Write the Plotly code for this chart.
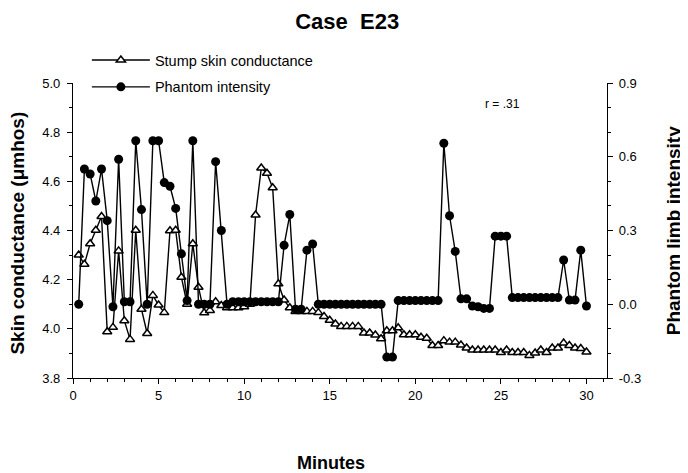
import plotly.graph_objects as go

# ---- data (sampled every 20 s) ----
sample_interval_min = 1 / 3

stump_skin_conductance = [
    4.300, 4.263, 4.346, 4.401, 4.457, 3.988, 4.006, 4.317, 4.033, 3.957,
    4.401, 4.080, 3.981, 4.136, 4.097, 4.066, 4.399, 4.401, 4.210, 4.100,
    4.346, 4.169, 4.065, 4.075, 4.110, 4.095, 4.086, 4.086, 4.086, 4.090,
    4.100, 4.463, 4.654, 4.633, 4.574, 4.183, 4.117, 4.086, 4.071, 4.071,
    4.071, 4.071, 4.066, 4.050, 4.035, 4.020, 4.010, 4.010, 4.010, 4.010,
    3.983, 3.983, 3.975, 3.960, 3.992, 3.992, 4.004, 3.976, 3.976, 3.976,
    3.966, 3.962, 3.932, 3.932, 3.952, 3.946, 3.946, 3.934, 3.922, 3.914,
    3.914, 3.914, 3.914, 3.914, 3.904, 3.914, 3.904, 3.904, 3.904, 3.892,
    3.902, 3.914, 3.904, 3.922, 3.922, 3.942, 3.932, 3.922, 3.920, 3.906,
]

phantom_intensity = [
    0.000, 0.550, 0.530, 0.420, 0.550, 0.340, -0.010, 0.590, 0.010, 0.010,
    0.665, 0.385, 0.000, 0.665, 0.665, 0.495, 0.480, 0.390, 0.205, 0.015,
    0.665, 0.000, 0.000, 0.000, 0.580, 0.300, 0.000, 0.010, 0.010, 0.010,
    0.010, 0.010, 0.010, 0.010, 0.010, 0.010, 0.240, 0.365, -0.020, -0.020,
    0.220, 0.245, 0.000, 0.000, 0.000, 0.000, 0.000, 0.000, 0.000, 0.000,
    0.000, 0.000, 0.000, 0.000, -0.215, -0.215, 0.015, 0.015, 0.015, 0.015,
    0.015, 0.015, 0.015, 0.015, 0.655, 0.360, 0.215, 0.022, 0.022, -0.007,
    -0.010, -0.017, -0.017, 0.277, 0.277, 0.277, 0.027, 0.027, 0.027, 0.027,
    0.027, 0.027, 0.027, 0.027, 0.027, 0.180, 0.017, 0.017, 0.220, -0.007,
]

minutes = [i * sample_interval_min for i in range(1, len(phantom_intensity) + 1)]

x_tick_vals = [0, 5, 10, 15, 20, 25, 30]
x_tick_text = ["0", "5", "10", "15", "20", "25", "30"]
y_left_tick_vals = [3.8, 4.0, 4.2, 4.4, 4.6, 4.8, 5.0]
y_left_tick_text = ["3.8", "4.0", "4.2", "4.4", "4.6", "4.8", "5.0"]
y_right_tick_vals = [-0.3, 0.0, 0.3, 0.6, 0.9]
y_right_tick_text = ["-0.3", "0.0", "0.3", "0.6", "0.9"]

FONT = "Liberation Sans, Arial, Helvetica, sans-serif"

fig = go.Figure()

fig.add_trace(go.Scatter(
    x=minutes, y=stump_skin_conductance, name="Stump skin conductance",
    mode="lines+markers", legendgroup="a",
    line=dict(color="black", width=1.4),
    marker=dict(symbol="triangle-up", size=8, color="white",
                line=dict(color="black", width=1.5)),
    yaxis="y",
))

fig.add_trace(go.Scatter(
    x=minutes, y=phantom_intensity, name="Phantom intensity",
    mode="lines+markers", legendgroup="b",
    line=dict(color="black", width=1.4),
    marker=dict(symbol="circle", size=9, color="black"),
    yaxis="y2",
))

axis_common = dict(
    showline=True, linecolor="black", linewidth=1.3,
    ticks="outside", ticklen=5, tickwidth=1.2, tickcolor="black",
    showgrid=False, zeroline=False,
    tickfont=dict(family=FONT, size=13, color="black"),
)

fig.update_layout(
    width=688, height=473,
    margin=dict(l=65, r=89, t=75, b=103),
    paper_bgcolor="white", plot_bgcolor="white",
    font=dict(family=FONT, color="black"),
    title=dict(text="<b>Case\u00a0\u00a0E23</b>", x=0.493, xanchor="center",
               y=0.9725, yanchor="middle",
               font=dict(family=FONT, size=22, color="black")),
    xaxis=dict(range=[0, 31.2], tickvals=x_tick_vals, ticktext=x_tick_text,
               minor=dict(dtick=1, tick0=0, ticks="outside", ticklen=3,
                          tickcolor="black", tickwidth=1),
               **axis_common),
    yaxis=dict(range=[3.8, 5.0], tickvals=y_left_tick_vals,
               ticktext=y_left_tick_text, ticklabelstandoff=4,
               minor=dict(dtick=0.1, tick0=3.8, ticks="outside", ticklen=3,
                          tickcolor="black", tickwidth=1),
               **axis_common),
    yaxis2=dict(range=[-0.3, 0.9], tickvals=y_right_tick_vals,
                ticktext=y_right_tick_text, overlaying="y", side="right",
                ticklabelstandoff=3,
                minor=dict(dtick=0.1, tick0=-0.3, ticks="outside", ticklen=3,
                           tickcolor="black", tickwidth=1),
                **axis_common),
    showlegend=True,
    legend=dict(x=0.026, y=1.132, xanchor="left", yanchor="top",
                bgcolor="rgba(0,0,0,0)", tracegroupgap=5, itemwidth=58,
                font=dict(family=FONT, size=14.5, color="black")),
    annotations=[
        dict(text="r = .31", x=25.1, y=4.915, xref="x", yref="y",
             showarrow=False, font=dict(family=FONT, size=12, color="black")),
        dict(text="<b>Minutes</b>", x=0.483, y=-0.288, xref="paper", yref="paper",
             xanchor="center", yanchor="middle", showarrow=False,
             font=dict(family=FONT, size=18, color="black")),
        dict(text="<b>Skin conductance (μmhos)</b>", x=-0.103, y=0.493,
             xref="paper", yref="paper", textangle=-90, showarrow=False,
             xanchor="center", yanchor="middle",
             font=dict(family=FONT, size=19, color="black")),
        dict(text="<b>Phantom limb intensity</b>", x=1.125, y=0.5,
             xref="paper", yref="paper", textangle=-90, showarrow=False,
             xanchor="center", yanchor="middle",
             font=dict(family=FONT, size=19, color="black")),
    ],
)

fig.write_html("out.html")
